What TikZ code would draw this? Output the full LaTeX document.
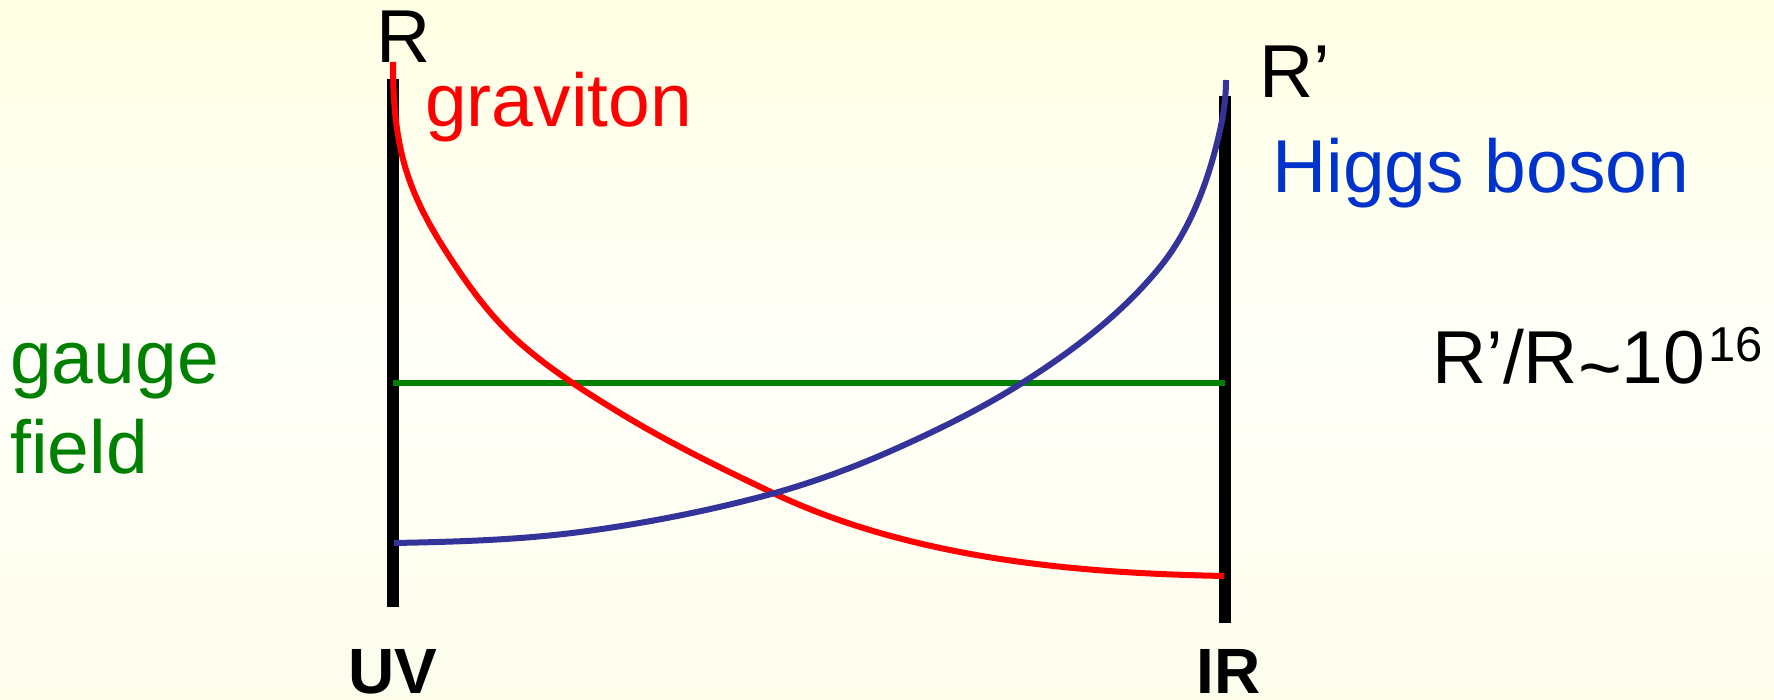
\documentclass[tikz,border=0pt]{standalone}
\usepackage{fontspec}
\setmainfont{Liberation Sans}
\definecolor{gravred}{RGB}{255,0,0}
\definecolor{higgsline}{RGB}{51,51,153}
\definecolor{higgstext}{RGB}{0,51,204}
\definecolor{gaugegreen}{RGB}{0,128,0}
\definecolor{bgtop}{RGB}{255,255,228}
\definecolor{bgmid}{RGB}{255,255,249}
\definecolor{bgbot}{RGB}{253,253,236}
\begin{document}
\begin{tikzpicture}[x=1pt,y=-1pt,
  brane/.style={line width=12pt, black},
  profile/.style={line width=6pt},
  lbl/.style={anchor=base west, inner sep=0pt, font=\fontsize{75}{90}\selectfont},
  ends/.style={anchor=base west, inner sep=0pt, font=\fontsize{64}{76}\selectfont\bfseries}]
\useasboundingbox (0,0) rectangle (1774,700);
\shade[top color=bgtop, bottom color=bgbot, middle color=bgmid] (0,0) rectangle (1774,700);
% branes
\coordinate (uvtop) at (393,79);
\coordinate (uvbot) at (393,607);
\coordinate (irtop) at (1225,96);
\coordinate (irbot) at (1225,623);
\draw[brane] (uvtop) -- (uvbot);
\draw[brane] (irtop) -- (irbot);
% gauge field profile
\coordinate (gL) at (393,383);
\coordinate (gR) at (1225,383);
\draw[profile, gaugegreen] (gL) -- (gR);
% graviton profile
\coordinate (gravUV) at (393,62);
\coordinate (gravIR) at (1224,576);
\draw[profile, gravred] (gravUV)
  .. controls (393,99.3) and (395.5,137.5) .. (407,173)
  .. controls (416.1,201.4) and (430.8,228.0) .. (447,253)
  .. controls (467.9,285.4) and (491.0,317.5) .. (520,343)
  .. controls (550.6,369.9) and (585.2,391.8) .. (620,413)
  .. controls (669.2,443.0) and (721.0,468.2) .. (773,493)
  .. controls (832.1,521.1) and (895.8,539.6) .. (960,552)
  .. controls (1046.8,568.8) and (1135.6,574.2) .. (gravIR);
% Higgs profile
\coordinate (higgsUV) at (394,543);
\coordinate (higgsIR) at (1226,80);
\draw[profile, higgsline] (higgsUV)
  .. controls (456.1,541.8) and (518.4,540.0) .. (580,532)
  .. controls (640.6,524.1) and (700.9,512.4) .. (760,497)
  .. controls (805.5,485.2) and (850.0,469.1) .. (893,450)
  .. controls (937.3,430.3) and (981.0,408.9) .. (1022,383)
  .. controls (1072.8,351.0) and (1122.1,313.6) .. (1160,267)
  .. controls (1188.7,231.7) and (1205.9,187.1) .. (1217,143)
  .. controls (1222.2,122.4) and (1226,101.2) .. (higgsIR);
% labels
\node[lbl] (R) at (376,63) {R};
\node[lbl, text=gravred] (grav) at (425,127) {graviton};
\node[lbl] (Rp) at (1259,98) {R’};
\node[lbl, text=higgstext] (higgs) at (1272,193) {Higgs boson};
\node[lbl, text=gaugegreen] (gauge) at (10,383) {gauge};
\node[lbl, text=gaugegreen] (field) at (10,473) {field};
\node[lbl] (ratio) at (1432,383) {R’/R\raisebox{-10pt}{\textasciitilde}10\hspace{3pt}\raisebox{21pt}{\fontsize{49}{49}\selectfont 16}};
\node[ends] (UV) at (348,693) {UV};
\node[ends] (IR) at (1196,693) {IR};
\end{tikzpicture}
\end{document}
